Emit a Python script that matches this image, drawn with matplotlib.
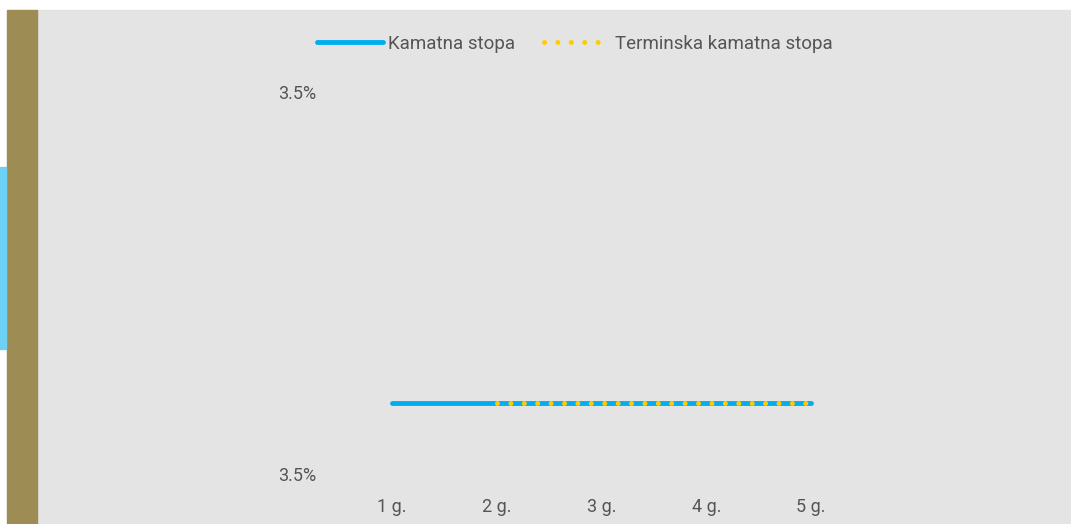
#!/usr/bin/env python3

import matplotlib
matplotlib.use('Agg')
from matplotlib import pyplot as plt
import matplotlib.ticker as mticker
from matplotlib.patches import Rectangle


YEARS = [1, 2, 3, 4, 5]
YEAR_LABELS = ['1 g.', '2 g.', '3 g.', '4 g.', '5 g.']
INTEREST_RATE = [3.5, 3.5, 3.5, 3.5, 3.5]
FORWARD_YEARS = [2, 3, 4, 5]
FORWARD_RATE = [3.5, 3.5, 3.5, 3.5]

COLOR_BG = '#e4e4e4'
COLOR_BAR = '#9e8c55'
COLOR_TAB = '#6dd0f5'
COLOR_RATE = '#00aeef'
COLOR_FORWARD = '#ffcc00'
COLOR_TEXT = '#555555'

W, H = 1071, 524
DPI = 100

plt.rcParams['font.family'] = ['Roboto', 'DejaVu Sans']

fig = plt.figure(figsize=(W / DPI, H / DPI), dpi=DPI, facecolor='white')

# background panels (pixel coords converted to figure fractions)
def px_rect(x0, y0, x1, y1, color):
    fig.patches.append(Rectangle((x0 / W, 1 - y1 / H), (x1 - x0) / W, (y1 - y0) / H,
                                 transform=fig.transFigure, color=color, zorder=-5))

px_rect(37, 10, W, H, COLOR_BG)
px_rect(7, 10, 37, H, COLOR_BAR)
px_rect(0, 167, 6, 349, COLOR_TAB)

# axes: 1 -> x=392px, 5 -> x=811px
left_px, right_px = 330, 873
top_px, bottom_px = 92, 474
ax = fig.add_axes([left_px / W, 1 - bottom_px / H, (right_px - left_px) / W, (bottom_px - top_px) / H])
ax.set_zorder(2)
ax.patch.set_visible(False)
for s in ax.spines.values():
    s.set_visible(False)

unit = (811 - 392) / 4
ax.set_xlim(1 - (392 - left_px) / unit, 5 + (right_px - 811) / unit)
ax.set_ylim(3.4963, 3.5163)

ax.plot(YEARS, INTEREST_RATE, color=COLOR_RATE, lw=3.5, solid_capstyle='round',
        label='Kamatna stopa', zorder=2)
ax.plot(FORWARD_YEARS, FORWARD_RATE, color=COLOR_FORWARD, lw=3.6,
        linestyle=(0, (0.001, 13.4 / 5.0)), dash_capstyle='round',
        label='Terminska kamatna stopa', zorder=3)

ax.set_xticks(YEARS)
ax.set_xticklabels(YEAR_LABELS)
ax.set_yticks([3.4963, 3.5163])
ax.yaxis.set_major_formatter(mticker.FuncFormatter(lambda v, p: '%.1f%%' % v))
ax.tick_params(axis='both', length=0, labelsize=13, labelcolor=COLOR_TEXT)
ax.tick_params(axis='x', pad=17)
ax.tick_params(axis='y', pad=10)

leg = fig.legend(loc='center', bbox_to_anchor=(575 / W, 1 - 44 / H), ncol=2, frameon=False,
                 fontsize=13.5, handlelength=3.5, handletextpad=0.3, columnspacing=1.5,
                 labelcolor=COLOR_TEXT)
leg.set_zorder(3)

fig.savefig('out.png', dpi=DPI)
